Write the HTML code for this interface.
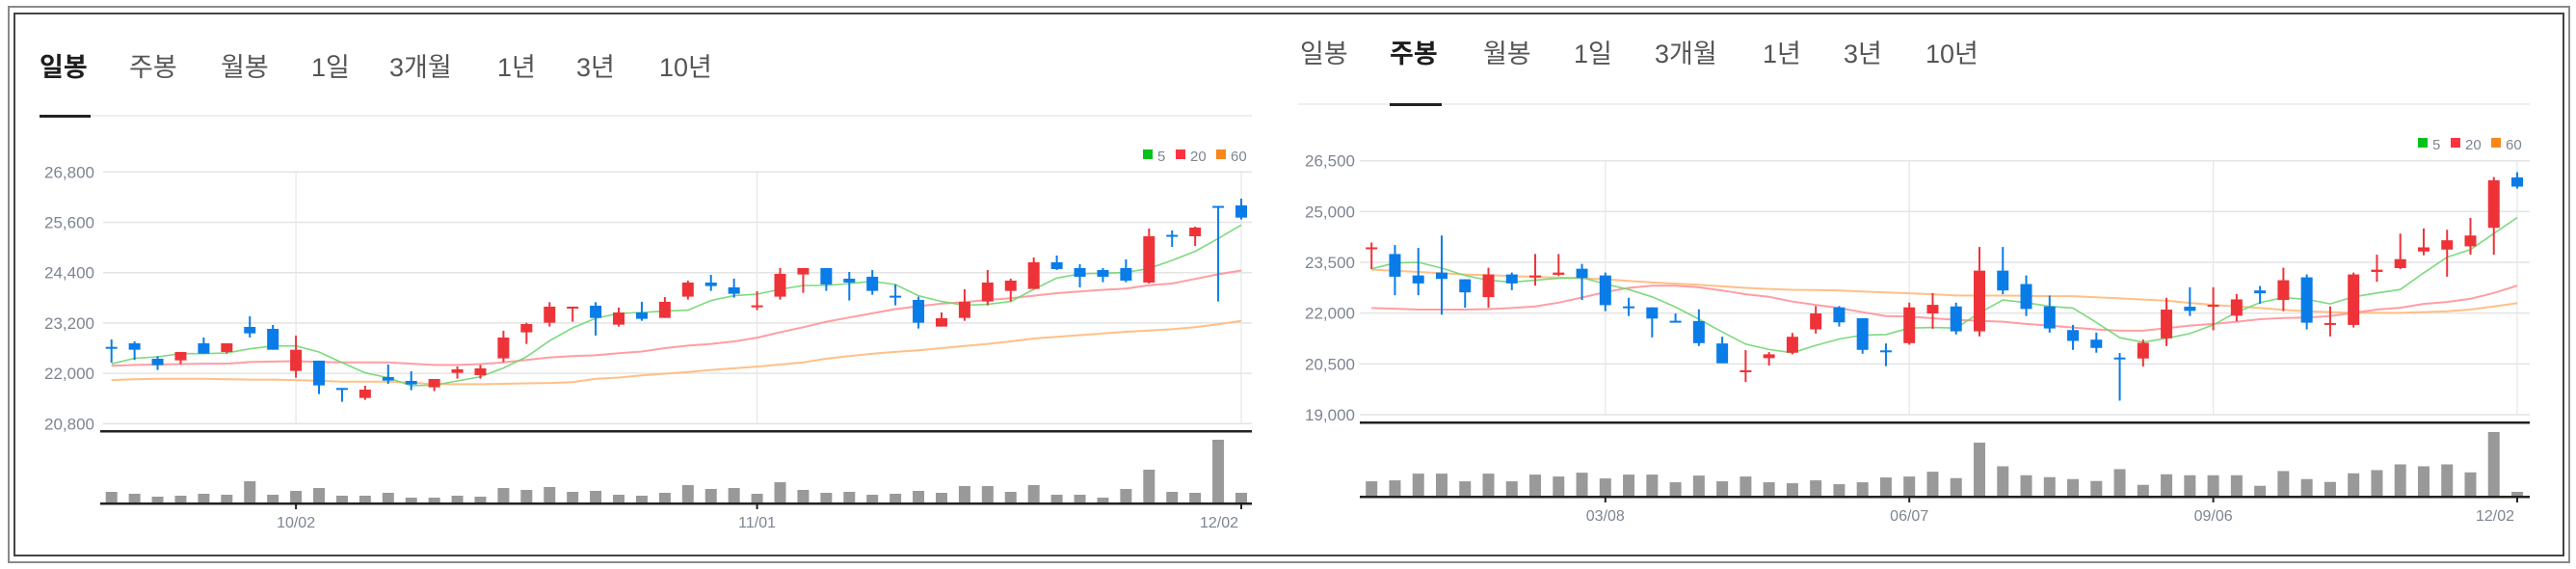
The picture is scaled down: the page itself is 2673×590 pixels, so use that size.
<!DOCTYPE html>
<html><head><meta charset="utf-8">
<style>
html,body{margin:0;padding:0;background:#fff;}
svg{display:block;font-family:"Liberation Sans","Noto Sans CJK KR",sans-serif;}
.tab{font-size:27px;fill:#555;font-family:"Liberation Sans","Noto Sans CJK KR",sans-serif;}
.tab.on{fill:#1e1e1e;font-weight:bold;}
.yl{font-size:17px;fill:#7d8591;text-anchor:end;}
.xl{font-size:16px;fill:#7d8591;text-anchor:middle;}
.lg{font-size:15px;fill:#7d8591;}
</style></head>
<body>
<svg id="root" width="2673" height="590" viewBox="0 0 2673 590" xmlns="http://www.w3.org/2000/svg">
<rect x="0" y="0" width="2673" height="590" fill="#fff"/>
<rect x="9" y="7" width="2657" height="576" fill="none" stroke="#8a8a8a" stroke-width="2"/>
<rect x="15" y="14" width="2645" height="562" fill="none" stroke="#444" stroke-width="2"/>

<g>
<text class="tab on" x="41" y="79">일봉</text>
<text class="tab" x="134" y="79">주봉</text>
<text class="tab" x="229" y="79">월봉</text>
<text class="tab" x="323" y="79">1일</text>
<text class="tab" x="404" y="79">3개월</text>
<text class="tab" x="516" y="79">1년</text>
<text class="tab" x="598" y="79">3년</text>
<text class="tab" x="684" y="79">10년</text>
<rect x="41" y="119" width="1258" height="2" fill="#efefef"/>
<rect x="41" y="119" width="53" height="3" fill="#222"/>
</g>

<g>
<text class="tab" x="1349" y="65">일봉</text>
<text class="tab on" x="1442" y="65">주봉</text>
<text class="tab" x="1539" y="65">월봉</text>
<text class="tab" x="1633" y="65">1일</text>
<text class="tab" x="1717" y="65">3개월</text>
<text class="tab" x="1829" y="65">1년</text>
<text class="tab" x="1913" y="65">3년</text>
<text class="tab" x="1998" y="65">10년</text>
<rect x="1347" y="107" width="1278" height="2" fill="#efefef"/>
<rect x="1442" y="107" width="54" height="3" fill="#222"/>
</g>

<g>
<rect x="1186" y="155" width="10" height="10" fill="#00c21a"/>
<text class="lg" x="1201" y="167">5</text>
<rect x="1220" y="155" width="10" height="10" fill="#ff3340"/>
<text class="lg" x="1235" y="167">20</text>
<rect x="1262" y="155" width="10" height="10" fill="#f7871a"/>
<text class="lg" x="1277" y="167">60</text>
</g>
<g>
<rect x="2509" y="143" width="10" height="10" fill="#00c21a"/>
<text class="lg" x="2524" y="155">5</text>
<rect x="2543" y="143" width="10" height="10" fill="#ff3340"/>
<text class="lg" x="2558" y="155">20</text>
<rect x="2585" y="143" width="10" height="10" fill="#f7871a"/>
<text class="lg" x="2600" y="155">60</text>
</g>
<g id="charts"></g>
</svg>

<script>
// ---------- Daily chart data ----------
const dOpen = [22630,22716,22348,22309,22716,22509,23106,23060,22057,22302,21650,21413,21911,21819,21666,22011,21957,22356,22976,23206,23555,23612,23160,23451,23321,
  23827,24164,24049,23574,23827,24356,24509,24256,24302,23850,23750,23114,23321,23712,23965,24011,24647,24509,24463,24509,24164,25300,25267,25990,26003];
const dClose = [22620,22562,22195,22509,22470,22716,22953,22562,22562,21712,21640,21612,21827,21735,21865,22095,22118,22854,23175,23589,23589,23321,23451,23298,23704,
  24164,24080,23896,23620,24371,24509,24118,24164,23965,23840,23206,23313,23704,24164,24210,24647,24486,24302,24302,24210,25267,25290,25474,25980,25712];
const dHigh = [22808,22762,22409,22509,22854,22716,23359,23152,22900,22302,21650,21704,22210,22049,21865,22164,22202,23014,23206,23696,23589,23696,23566,23704,23819,
  24210,24348,24256,23957,24509,24509,24509,24417,24463,24118,23827,23451,24003,24463,24256,24762,24808,24601,24509,24716,25451,25405,25497,25990,26164];
const dLow = [22256,22317,22080,22218,22470,22470,22854,22562,21896,21505,21321,21367,21750,21597,21574,21873,21873,22264,22700,23114,23229,22900,23114,23252,23321,
  23758,23965,23804,23505,23758,23919,23965,23735,23873,23620,23068,23114,23252,23620,23712,24011,24463,24049,24172,24172,24141,25014,25037,23712,25666];
const dMA5 = [22226,22356,22394,22470,22470,22485,22585,22654,22654,22509,22256,22011,21896,21704,21720,21819,21919,22126,22394,22777,23083,23313,23428,23451,23482,
  23505,23735,23850,23888,24003,24095,24095,24141,24194,24118,23850,23712,23620,23643,23712,24003,24271,24371,24386,24402,24501,24693,24907,25213,25535];
const dMA20 = [22180,22200,22210,22220,22230,22230,22270,22280,22290,22270,22260,22260,22260,22230,22200,22200,22220,22260,22320,22380,22410,22430,22480,22520,22600,
  22660,22700,22760,22850,22980,23100,23230,23330,23430,23530,23600,23660,23700,23750,23790,23850,23910,23950,23990,24020,24100,24140,24250,24360,24450];
const dMA60 = [21840,21860,21870,21870,21870,21860,21850,21850,21840,21820,21800,21800,21800,21780,21740,21740,21740,21750,21760,21770,21790,21870,21900,21950,21990,
  22030,22080,22120,22160,22210,22260,22350,22410,22470,22510,22550,22600,22650,22700,22760,22830,22870,22910,22950,22990,23020,23050,23100,23170,23250];
const dVol = [33,27,18,21,27,24,66,24,36,45,21,21,30,15,15,21,18,45,39,48,33,36,24,21,30,
  54,42,45,27,63,39,30,33,24,27,36,30,51,51,33,54,24,24,15,42,102,33,30,195,30];
const dYTicks = [26800,25600,24400,23200,22000,20800];
const dYTickLabels = ["26,800","25,600","24,400","23,200","22,000","20,800"];
const dXTickIdx = [8,28,49];
const dXTickLabels = ["10/02","11/01","12/02"];

// ---------- Weekly chart data ----------
const wOpen = [23906,23745,23113,23198,23000,22472,23142,23066,23132,23311,23113,22200,22170,21774,21764,21104,20264,20670,20830,21519,22170,21849,20900,21113,21991,
  22198,21462,23255,22859,22198,21500,21217,20689,20660,21255,22189,22189,21925,22670,22387,23057,21660,21651,23217,23330,23821,23877,23972,24519,26009];
const wClose = [23943,23075,22877,23009,22613,23142,22877,23113,23198,23038,22236,22189,21840,21727,21113,20519,20311,20783,21302,21991,21727,20915,20890,22170,22245,
  21462,23255,22670,22123,21547,21179,20972,20680,21123,22104,22066,22245,22406,22585,22972,21717,21708,23142,23283,23594,23943,24151,24292,25925,25736];
const wHigh = [24085,24009,23925,24292,23000,23340,23198,23745,23745,23453,23198,22453,22170,21991,22113,21302,20906,20849,21415,22208,22208,21849,21104,22311,22594,
  22311,23953,23953,23113,22519,21651,21425,20821,21217,22453,22764,22764,22566,22802,23340,23142,22198,23198,23726,24349,24500,24462,24811,26019,26160];
const wLow = [23302,22528,22528,21953,22160,22160,22679,22811,23094,22387,22057,21915,21283,21727,21028,20519,19962,20453,20783,21396,21604,20802,20434,21066,21538,
  21368,21311,22557,21915,21425,20915,20830,19415,20425,21028,21915,21491,21755,22274,22057,21519,21311,21575,22925,23302,23708,23075,23726,23726,25679];
const wMA5 = [23311,23481,23500,23330,23113,22972,22915,22972,23028,23047,22859,22698,22481,22179,21821,21443,21085,20925,20830,21047,21236,21349,21368,21557,21575,
  21557,22009,22387,22311,22198,22151,21726,21274,21142,21255,21396,21651,22028,22311,22462,22406,22274,22481,22594,22698,23189,23651,23877,24349,24821];
const wMA20 = [22151,22130,22104,22104,22104,22120,22151,22198,22311,22462,22623,22745,22811,22811,22764,22670,22557,22481,22340,22245,22151,22028,21915,21896,21849,
  21802,21774,21745,21679,21632,21575,21519,21481,21481,21557,21632,21679,21745,21821,21858,21868,21915,22009,22104,22160,22274,22330,22425,22594,22811];
const wMA60 = [23283,23250,23217,23180,23142,23120,23094,23070,23047,23028,23000,22950,22906,22870,22840,22790,22745,22715,22689,22680,22670,22640,22613,22585,22557,
  22520,22519,22519,22510,22500,22500,22470,22434,22400,22368,22300,22245,22200,22151,22100,22057,22030,22009,22009,22009,22030,22057,22104,22198,22292];
const wVol = [45,48,69,69,45,69,45,66,60,72,54,66,66,42,63,45,60,42,39,48,36,42,57,60,75,
  55,166,92,64,58,52,46,83,34,67,64,64,64,31,77,52,43,70,80,98,92,98,73,199,12];
const wYTicks = [26500,25000,23500,22000,20500,19000];
const wYTickLabels = ["26,500","25,000","23,500","22,000","20,500","19,000"];
const wXTickIdx = [10,23,36,49];
const wXTickLabels = ["03/08","06/07","09/06","12/02"];

const NS = "http://www.w3.org/2000/svg";
const UP = "#ee3338", DOWN = "#0a7ce8";
function mk(tag, attrs, parent){
  const e = document.createElementNS(NS, tag);
  for (const k in attrs) e.setAttribute(k, attrs[k]);
  parent.appendChild(e);
  return e;
}

function drawChart(cfg){
  const root = document.getElementById('charts');
  const g = mk('g', {}, root);
  
  
  const n = cfg.open.length;
  const xs = i => cfg.x0 + i * (cfg.x1 - cfg.x0) / (n - 1);
  const ys = p => cfg.yTop + (cfg.yMax - p) / (cfg.yMax - cfg.yMin) * (cfg.yBot - cfg.yTop);
  const vMax = Math.max(...cfg.vol);
  const vs = v => v / vMax * cfg.volH;

  cfg.yTicks.forEach((t, k) => {
    const y = ys(t);
    const gl = mk('line', {x1: cfg.gx0, x2: cfg.gx1, y1: y, y2: y, stroke: '#e4e4e4', 'stroke-width': 1.5}, g);
    
    
    const tl = mk('text', {x: cfg.labX, y: y + 6, class: 'yl'}, g);
    
    
    tl.textContent = cfg.yTickLabels[k];
  });
  cfg.xTickIdx.forEach(i => {
    const x = xs(i);
    const vl = mk('line', {x1: x, x2: x, y1: ys(cfg.yMax), y2: ys(cfg.yMin), stroke: '#e6e6e6', 'stroke-width': 1.2}, g);
    
    
  });
  [[cfg.ma60, '#ffb97a', 'ma60-line'], [cfg.ma20, '#ff9499', 'ma20-line'], [cfg.ma5, '#6fd66f', 'ma5-line']].forEach(([arr, col, nm]) => {
    const d = arr.map((v, i) => (i ? 'L' : 'M') + xs(i).toFixed(1) + ' ' + ys(v).toFixed(1)).join(' ');
    const pl = mk('path', {d: d, fill: 'none', stroke: col, 'stroke-width': nm === 'ma5-line' ? 1.6 : 2, 'stroke-opacity': 0.9}, g);
    
    
  });
  for (let i = 0; i < n; i++){
    const o = cfg.open[i], c = cfg.close[i], h = cfg.high[i], l = cfg.low[i];
    const col = c >= o ? UP : DOWN;
    const x = xs(i);
    const cg = mk('g', {}, g);
    
    
    mk('rect', {x: x - 1, y: ys(h), width: 2, height: Math.max(1, ys(l) - ys(h)), fill: col}, cg);
    const top = ys(Math.max(o, c)), bot = ys(Math.min(o, c));
    mk('rect', {x: x - 6, y: top, width: 12, height: Math.max(2, bot - top), fill: col}, cg);
  }
  const sep = mk('rect', {x: cfg.thickX0, y: cfg.thickY - 1, width: cfg.gx1 - cfg.thickX0, height: 2.5, fill: '#222'}, g);
  
  
  for (let i = 0; i < n; i++){
    const h = vs(cfg.vol[i]);
    const vb = mk('rect', {x: xs(i) - 6, y: cfg.volBase - h, width: 12, height: h, fill: '#999'}, g);
    
    
  }
  const ax = mk('rect', {x: cfg.thickX0, y: cfg.volBase, width: cfg.gx1 - cfg.thickX0, height: 2.5, fill: '#222'}, g);
  
  
  cfg.xTickIdx.forEach((i, k) => {
    const x = xs(i);
    const tk = mk('rect', {x: x - 1, y: cfg.volBase, width: 2, height: 7, fill: '#222'}, g);
    
    
    const lx = (k === cfg.xTickIdx.length - 1) ? x - 23 : x;
    const xl = mk('text', {x: lx, y: cfg.volBase + 26, class: 'xl'}, g);
    
    
    xl.textContent = cfg.xTickLabels[k];
  });
}

drawChart({name: 'daily-candle-chart', open: dOpen, close: dClose, high: dHigh, low: dLow,
  ma5: dMA5, ma20: dMA20, ma60: dMA60, vol: dVol, yTicks: dYTicks, yTickLabels: dYTickLabels,
  xTickIdx: dXTickIdx, xTickLabels: dXTickLabels,
  x0: 115.7, x1: 1288, yTop: 178.3, yBot: 439.3, yMax: 26800, yMin: 20800,
  gx0: 107, gx1: 1299, labX: 98, thickX0: 104, thickY: 447, volBase: 521, volH: 65});

drawChart({name: 'weekly-candle-chart', open: wOpen, close: wClose, high: wHigh, low: wLow,
  ma5: wMA5, ma20: wMA20, ma60: wMA60, vol: wVol, yTicks: wYTicks, yTickLabels: wYTickLabels,
  xTickIdx: wXTickIdx, xTickLabels: wXTickLabels,
  x0: 1423.2, x1: 2612, yTop: 166.7, yBot: 430, yMax: 26500, yMin: 19000,
  gx0: 1411, gx1: 2625, labX: 1406, thickX0: 1411, thickY: 438, volBase: 514, volH: 66});
</script>
</body></html>
